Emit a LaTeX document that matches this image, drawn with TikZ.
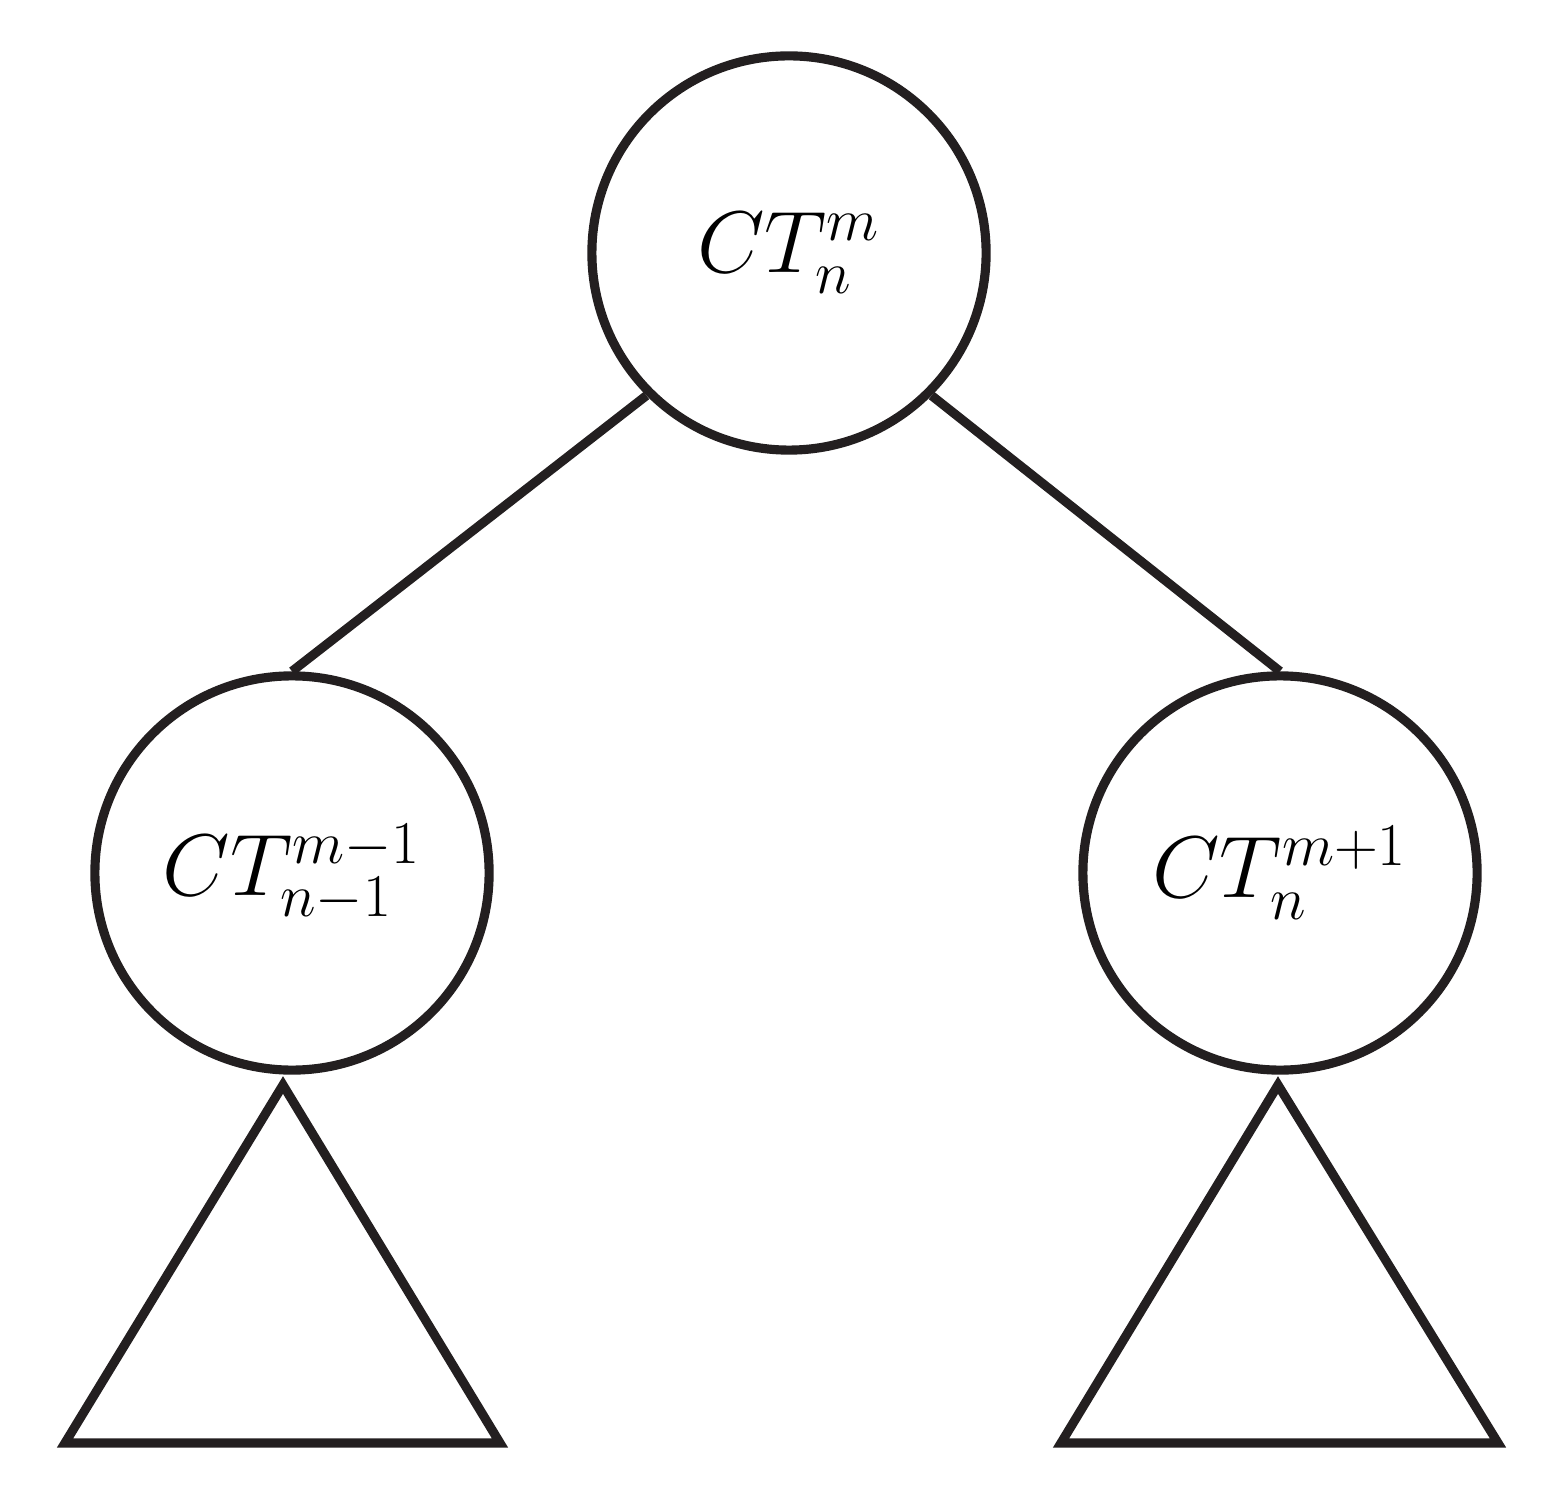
\documentclass[tikz,border=0pt]{standalone}
\begin{document}
\begin{tikzpicture}[x=0.01cm,y=-0.01cm,
  ln/.style={draw=dk,line width=2.6pt},
  cnode/.style={circle,ln,minimum size=3.94cm,inner sep=0pt,font=\fontsize{27}{32}\selectfont}]
\definecolor{dk}{HTML}{231F20}
\useasboundingbox (0,0) rectangle (1546,1498);
\node[cnode] (top) at (789,253) {$CT_n^m$};
\node[cnode] (left) at (292,873) {$CT_{n-1}^{m-1}$};
\node[cnode] (right) at (1280,873) {$CT_n^{m+1}$};
\draw[ln] (top.225) -- (left.north);
\draw[ln] (top.-45) -- (right.north);
\coordinate (la) at (283,1085);
\coordinate (ra) at (1278,1085);
\draw[ln,line join=miter] (la) -- (500,1443) -- (65,1443) -- cycle;
\draw[ln,line join=miter] (ra) -- (1498,1443) -- (1061,1443) -- cycle;
\end{tikzpicture}
\end{document}
